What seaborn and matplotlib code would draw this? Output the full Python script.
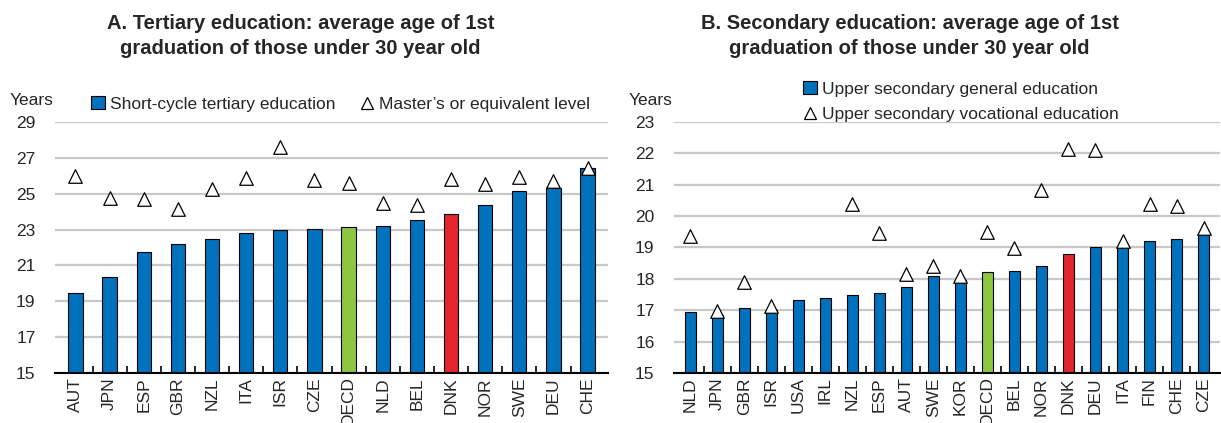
import matplotlib
matplotlib.use('Agg')
import matplotlib.pyplot as plt
import seaborn as sns
import numpy as np
import pandas as pd
from matplotlib.lines import Line2D
from matplotlib.patches import Patch

sns.set_theme(style='white')
plt.rcParams['font.family'] = ['Liberation Sans Narrow', 'Liberation Sans', 'DejaVu Sans']

BLUE = '#0071bc'
GREEN = '#8dc63f'
RED = '#e3262e'
GRID = '#c8c8c8'

# Panel A: tertiary education
a_countries = ['AUT', 'JPN', 'ESP', 'GBR', 'NZL', 'ITA', 'ISR', 'CZE', 'OECD',
               'NLD', 'BEL', 'DNK', 'NOR', 'SWE', 'DEU', 'CHE']
a_short = [19.45, 20.38, 21.74, 22.19, 22.49, 22.82, 22.99, 23.03, 23.12,
           23.18, 23.55, 23.85, 24.35, 25.17, 25.30, 26.45]
a_master = [26.0, 24.74, 24.68, 24.16, 25.24, 25.86, 27.57, 25.76, 25.61,
            24.50, 24.35, 25.80, 25.52, 25.93, 25.69, 26.40]

# Panel B: secondary education
b_countries = ['NLD', 'JPN', 'GBR', 'ISR', 'USA', 'IRL', 'NZL', 'ESP', 'AUT', 'SWE',
               'KOR', 'OECD', 'BEL', 'NOR', 'DNK', 'DEU', 'ITA', 'FIN', 'CHE', 'CZE']
b_general = [16.95, 16.84, 17.07, 17.02, 17.34, 17.40, 17.49, 17.54, 17.73, 18.08,
             17.95, 18.21, 18.25, 18.40, 18.80, 19.01, 19.02, 19.19, 19.27, 19.43]
b_vocational = [19.35, 16.99, 17.89, 17.15, np.nan, np.nan, 20.39, 19.46, 18.15, 18.40,
                18.10, 19.48, 18.97, 20.84, 22.13, 22.11, 19.21, 20.38, 20.31, 19.62]


def bar_colour(c):
    if c == 'OECD':
        return GREEN
    if c == 'DNK':
        return RED
    return BLUE


def draw_panel(ax, countries, bars, tris, ymin, ymax, step):
    df = pd.DataFrame({'country': countries, 'bar': bars, 'tri': tris})
    pal = {c: bar_colour(c) for c in countries}
    sns.barplot(data=df, x='country', y='bar', hue='country', palette=pal,
                legend=False, width=0.42, edgecolor='black', linewidth=0.8,
                saturation=1, ax=ax, zorder=2)
    # bars start from the axis floor
    for p, v in zip(ax.patches, bars):
        p.set_y(ymin)
        p.set_height(v - ymin)
    x = np.arange(len(countries))
    ax.scatter(x, df['tri'], marker='^', s=95, facecolor='white',
               edgecolor='black', linewidth=0.9, zorder=3)
    ax.set_ylim(ymin, ymax)
    ax.set_xlim(-0.6, len(countries) - 0.4)
    ax.set_yticks(np.arange(ymin, ymax + 0.1, step))
    ax.yaxis.grid(True, color=GRID, linewidth=1.6, zorder=0)
    ax.set_axisbelow(True)
    for s in ['left', 'right', 'top']:
        ax.spines[s].set_visible(False)
    ax.spines['bottom'].set_color('black')
    ax.spines['bottom'].set_linewidth(1.5)
    ax.set_xlabel('')
    ax.set_ylabel('')
    ax.tick_params(axis='y', length=0, labelsize=12.5, pad=14)
    ax.tick_params(axis='x', which='major', length=0, labelsize=12.5,
                   rotation=90, pad=3)
    ax.set_xticks(np.arange(len(countries) - 1) + 0.5, minor=True)
    ax.tick_params(axis='x', which='minor', direction='in', length=5,
                   width=1.2, color='black', bottom=True)


fig = plt.figure(figsize=(12.21, 4.23), dpi=100)
axA = fig.add_axes([0.045, 0.118, 0.453, 0.594])
axB = fig.add_axes([0.552, 0.118, 0.447, 0.594])

draw_panel(axA, a_countries, a_short, a_master, 15, 29, 2)
draw_panel(axB, b_countries, b_general, b_vocational, 15, 23, 1)

title_kw = dict(fontsize=14.5, fontweight='bold', ha='center', va='top',
                linespacing=1.4)
fig.text(0.246, 0.968, 'A. Tertiary education: average age of 1st\n'
         'graduation of those under 30 year old', **title_kw)
fig.text(0.745, 0.968, 'B. Secondary education: average age of 1st\n'
         'graduation of those under 30 year old', **title_kw)

fig.text(0.008, 0.763, 'Years', fontsize=12.5, va='center')
fig.text(0.515, 0.763, 'Years', fontsize=12.5, va='center')

sq = Patch(facecolor=BLUE, edgecolor='black', linewidth=0.8)
tri = Line2D([], [], marker='^', linestyle='none', markersize=8,
             markerfacecolor='white', markeredgecolor='black', markeredgewidth=0.9)

axA.legend([sq, tri], ['Short-cycle tertiary education', "Master\u2019s or equivalent level"],
           ncol=2, frameon=False, fontsize=12.5, loc='lower left',
           bbox_to_anchor=(0.05, 1.005), handlelength=0.8, handleheight=0.8,
           handletextpad=0.3, columnspacing=1.4, borderaxespad=0.1)
axB.legend([sq, tri], ['Upper secondary general education', 'Upper secondary vocational education'],
           ncol=1, frameon=False, fontsize=12.5, loc='lower left',
           bbox_to_anchor=(0.22, 0.965), handlelength=0.8, handleheight=0.8,
           handletextpad=0.3, labelspacing=0.55, borderaxespad=0.1)

fig.savefig('out.png', dpi=100)
